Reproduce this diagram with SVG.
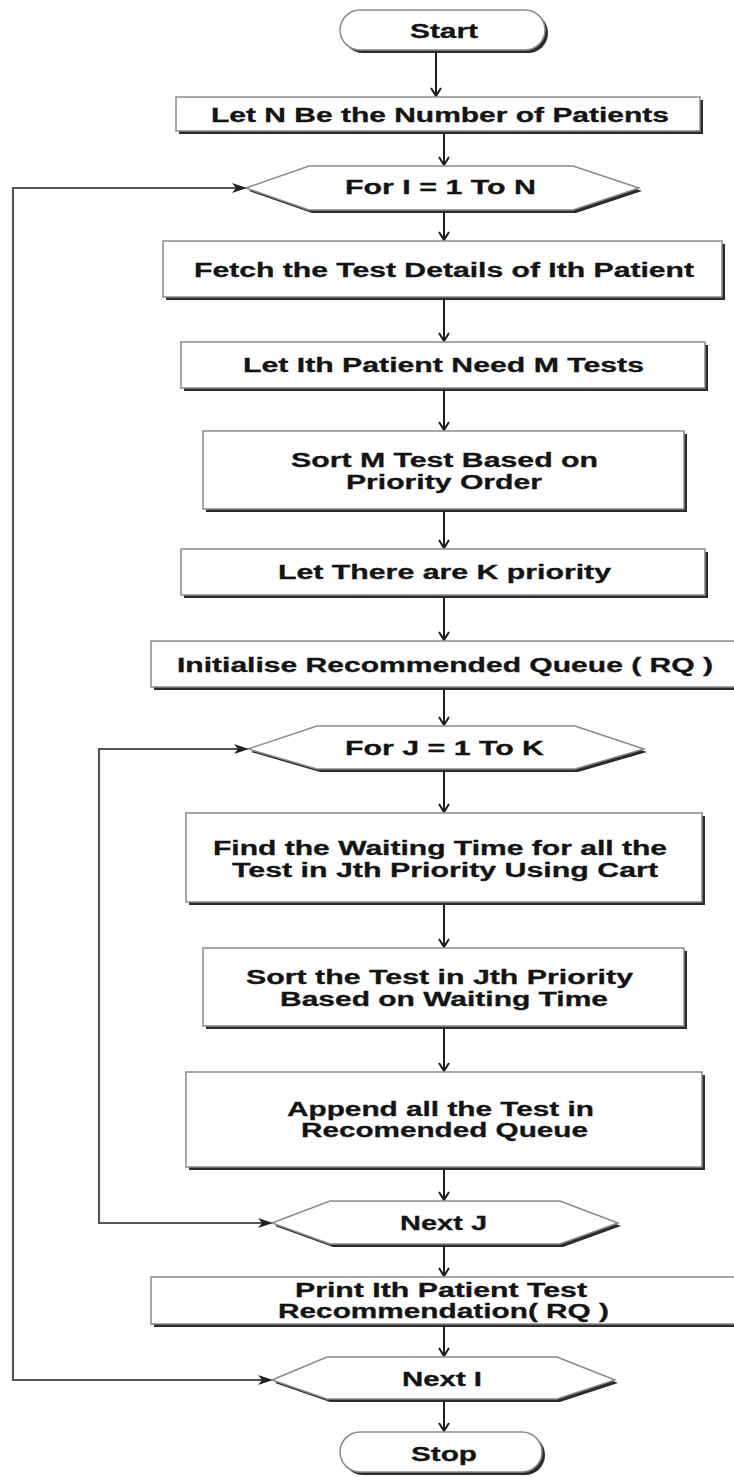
<svg xmlns="http://www.w3.org/2000/svg" width="734" height="1477" viewBox="0 0 734 1477">
<style>
  .sh { fill: #2b2b2b; }
  .bx { fill: #ffffff; stroke: #8a8a8a; stroke-width: 1.5; }
  .t { font-family: "Liberation Sans", Arial, sans-serif; font-weight: bold; font-size: 20px; fill: #141414; stroke: #141414; stroke-width: 0.3; }
  .c { fill: none; stroke: #1e1e1e; stroke-width: 2; }
  .lp { fill: none; stroke: #555555; stroke-width: 2.2; }
</style>
<defs>
  <marker id="ah" markerWidth="12" markerHeight="12" refX="6" refY="11" orient="0" markerUnits="userSpaceOnUse">
    <path d="M1,3 L6,11 L11,3" fill="none" stroke="#1e1e1e" stroke-width="2"/>
  </marker>
  <marker id="fa" markerWidth="16" markerHeight="12" refX="14" refY="6" orient="auto-start-reverse" markerUnits="userSpaceOnUse">
    <path d="M0,1 L15,6 L0,11 L4,6 Z" fill="#222222"/>
  </marker>
</defs>
<rect width="734" height="1477" fill="#ffffff"/>

<g id="connectors">
  <path class="c" d="M436,53 L436,96" marker-end="url(#ah)"/>
  <path class="c" d="M444,134 L444,165" marker-end="url(#ah)"/>
  <path class="c" d="M444,212 L444,240" marker-end="url(#ah)"/>
  <path class="c" d="M444,300 L444,341" marker-end="url(#ah)"/>
  <path class="c" d="M444,391 L444,430" marker-end="url(#ah)"/>
  <path class="c" d="M444,512 L444,548" marker-end="url(#ah)"/>
  <path class="c" d="M444,598 L444,640" marker-end="url(#ah)"/>
  <path class="c" d="M444,690 L444,725" marker-end="url(#ah)"/>
  <path class="c" d="M444,772 L444,812" marker-end="url(#ah)"/>
  <path class="c" d="M444,905 L444,947" marker-end="url(#ah)"/>
  <path class="c" d="M444,1029 L444,1071" marker-end="url(#ah)"/>
  <path class="c" d="M444,1170 L444,1200" marker-end="url(#ah)"/>
  <path class="c" d="M444,1247 L444,1276" marker-end="url(#ah)"/>
  <path class="c" d="M444,1327 L444,1356" marker-end="url(#ah)"/>
  <path class="c" d="M444,1402 L444,1431" marker-end="url(#ah)"/>
  <path class="lp" d="M246,188 L13,188 L13,1380 L272,1380" marker-start="url(#fa)" marker-end="url(#fa)"/>
  <path class="lp" d="M248,749 L99,749 L99,1223 L272,1223" marker-start="url(#fa)" marker-end="url(#fa)"/>
</g>

<g id="start">
  <rect class="sh" x="343" y="13" width="205" height="40" rx="20"/>
  <rect class="bx" x="340" y="10" width="205" height="40" rx="20"/>
  <text class="t" x="410" y="38" textLength="68" lengthAdjust="spacingAndGlyphs">Start</text>
</g>

<g id="let-n">
  <rect class="sh" x="179" y="100" width="524" height="34"/>
  <rect class="bx" x="176" y="97" width="524" height="34"/>
  <text class="t" x="211" y="122" textLength="458" lengthAdjust="spacingAndGlyphs">Let N Be the Number of Patients</text>
</g>

<g id="for-i">
  <polygon class="sh" points="249,191 312,169 576,169 642,191 576,213 312,213"/>
  <polygon class="bx" points="246,188 309,166 573,166 639,188 573,210 309,210"/>
  <text class="t" x="345" y="194" textLength="191" lengthAdjust="spacingAndGlyphs">For I = 1 To N</text>
</g>

<g id="fetch">
  <rect class="sh" x="166" y="244" width="559" height="56"/>
  <rect class="bx" x="163" y="241" width="559" height="56"/>
  <text class="t" x="194" y="277" textLength="500" lengthAdjust="spacingAndGlyphs">Fetch the Test Details of Ith Patient</text>
</g>

<g id="let-m">
  <rect class="sh" x="184" y="345" width="524" height="46"/>
  <rect class="bx" x="181" y="342" width="524" height="46"/>
  <text class="t" x="243" y="372" textLength="401" lengthAdjust="spacingAndGlyphs">Let Ith Patient Need M Tests</text>
</g>

<g id="sort-m">
  <rect class="sh" x="206" y="434" width="481" height="78"/>
  <rect class="bx" x="203" y="431" width="481" height="78"/>
  <text class="t" x="291" y="467" textLength="307" lengthAdjust="spacingAndGlyphs">Sort M Test Based on</text>
  <text class="t" x="346" y="489" textLength="196" lengthAdjust="spacingAndGlyphs">Priority Order</text>
</g>

<g id="let-k">
  <rect class="sh" x="184" y="552" width="524" height="46"/>
  <rect class="bx" x="181" y="549" width="524" height="46"/>
  <text class="t" x="278" y="579" textLength="333" lengthAdjust="spacingAndGlyphs">Let There are K priority</text>
</g>

<g id="init-rq">
  <rect class="sh" x="154" y="644" width="590" height="46"/>
  <rect class="bx" x="151" y="641" width="590" height="46"/>
  <text class="t" x="177" y="672" textLength="536" lengthAdjust="spacingAndGlyphs">Initialise Recommended Queue ( RQ )</text>
</g>

<g id="for-j">
  <polygon class="sh" points="251,752 320,729 578,729 647,752 578,772 320,772"/>
  <polygon class="bx" points="248,749 317,726 575,726 644,749 575,769 317,769"/>
  <text class="t" x="345" y="755" textLength="199" lengthAdjust="spacingAndGlyphs">For J = 1 To K</text>
</g>

<g id="find-wait">
  <rect class="sh" x="189" y="816" width="516" height="89"/>
  <rect class="bx" x="186" y="813" width="516" height="89"/>
  <text class="t" x="213" y="855" textLength="454" lengthAdjust="spacingAndGlyphs">Find the Waiting Time for all the</text>
  <text class="t" x="232" y="877" textLength="426" lengthAdjust="spacingAndGlyphs">Test in Jth Priority Using Cart</text>
</g>

<g id="sort-wait">
  <rect class="sh" x="206" y="951" width="481" height="78"/>
  <rect class="bx" x="203" y="948" width="481" height="78"/>
  <text class="t" x="246" y="984" textLength="387" lengthAdjust="spacingAndGlyphs">Sort the Test in Jth Priority</text>
  <text class="t" x="280" y="1006" textLength="328" lengthAdjust="spacingAndGlyphs">Based on Waiting Time</text>
</g>

<g id="append">
  <rect class="sh" x="189" y="1075" width="516" height="95"/>
  <rect class="bx" x="186" y="1072" width="516" height="95"/>
  <text class="t" x="287" y="1116" textLength="307" lengthAdjust="spacingAndGlyphs">Append all the Test in</text>
  <text class="t" x="301" y="1137" textLength="287" lengthAdjust="spacingAndGlyphs">Recomended Queue</text>
</g>

<g id="next-j">
  <polygon class="sh" points="275,1226 333,1204 563,1204 621,1226 563,1247 333,1247"/>
  <polygon class="bx" points="272,1223 330,1201 560,1201 618,1223 560,1244 330,1244"/>
  <text class="t" x="400" y="1230" textLength="87" lengthAdjust="spacingAndGlyphs">Next J</text>
</g>

<g id="print">
  <rect class="sh" x="154" y="1280" width="590" height="47"/>
  <rect class="bx" x="151" y="1277" width="590" height="47"/>
  <text class="t" x="295" y="1297" textLength="292" lengthAdjust="spacingAndGlyphs">Print Ith Patient Test</text>
  <text class="t" x="278" y="1318" textLength="331" lengthAdjust="spacingAndGlyphs">Recommendation( RQ )</text>
</g>

<g id="next-i">
  <polygon class="sh" points="275,1383 330,1360 560,1360 618,1383 560,1402 330,1402"/>
  <polygon class="bx" points="272,1380 327,1357 557,1357 615,1380 557,1399 327,1399"/>
  <text class="t" x="402" y="1386" textLength="80" lengthAdjust="spacingAndGlyphs">Next I</text>
</g>

<g id="stop">
  <rect class="sh" x="343" y="1435" width="202" height="40" rx="20"/>
  <rect class="bx" x="340" y="1432" width="202" height="40" rx="20"/>
  <text class="t" x="411" y="1461" textLength="66" lengthAdjust="spacingAndGlyphs">Stop</text>
</g>
</svg>
